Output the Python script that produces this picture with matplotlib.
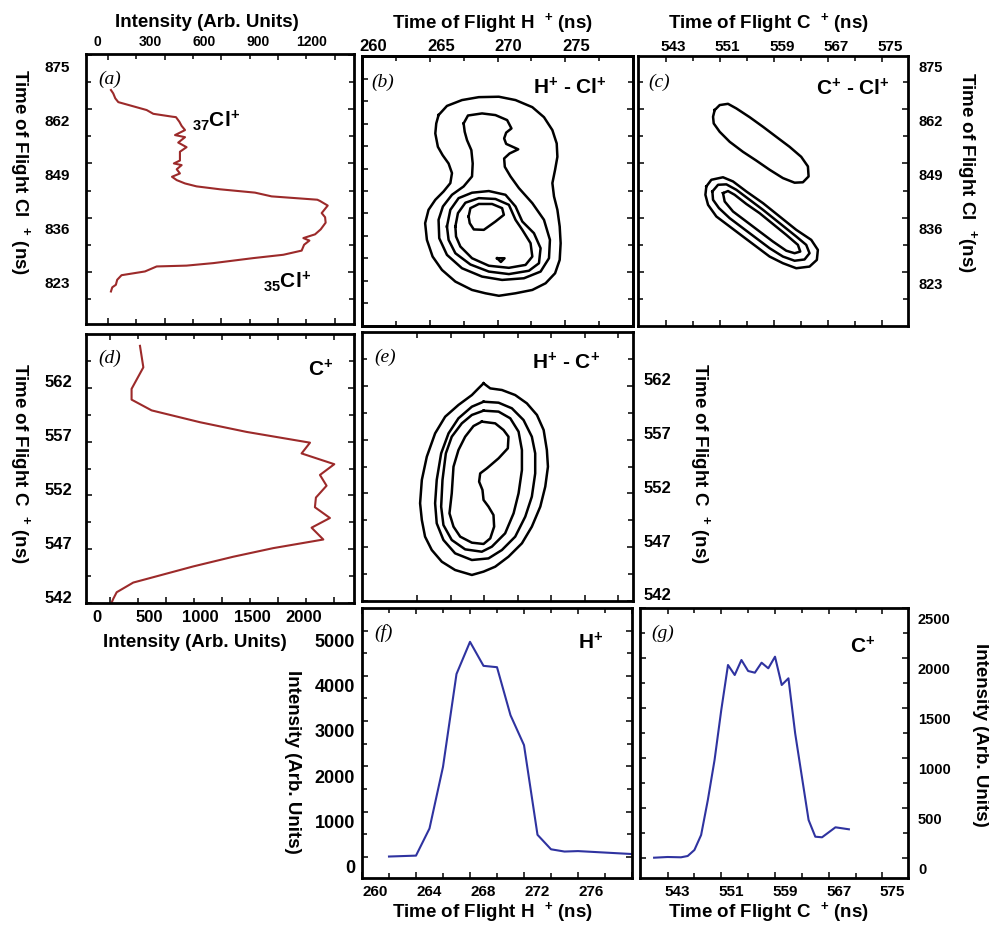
import numpy as np
import matplotlib
matplotlib.use("Agg")
import matplotlib.pyplot as plt
import matplotlib.transforms as mtransforms
from matplotlib.ticker import FixedLocator

plt.rcParams["font.family"] = ["Liberation Sans", "DejaVu Sans"]
plt.rcParams["font.weight"] = "bold"
plt.rcParams["axes.labelweight"] = "bold"
plt.rcParams["mathtext.fontset"] = "custom"
plt.rcParams["mathtext.rm"] = "Liberation Sans:bold"
plt.rcParams["mathtext.it"] = "Liberation Sans:bold"
plt.rcParams["mathtext.bf"] = "Liberation Sans:bold"
plt.rcParams["mathtext.sf"] = "Liberation Sans:bold"
plt.rcParams["mathtext.default"] = "rm"

# ---------------- data ----------------
# (a) Cl+ time-of-flight spectrum (intensity vs TOF)
a_intensity = [16, 23, 42, 49, 72, 196, 258, 416, 558, 769, 928, 1025, 1038, 1066, 1034,
               1096, 1126, 1152, 1149, 1131, 1163, 1122, 1108, 866, 778, 593, 469, 408, 364,
               339, 381, 364, 390, 349, 381, 381, 416, 372, 408, 355, 408, 390, 378, 360, 342,
               240, 205, 55, 39, 28, 16]
a_tof = [818.3, 819.3, 819.9, 821.1, 822.2, 823.1, 824.3, 824.5, 825.1, 826.3, 827.1, 828.1,
         829.5, 830.5, 831.1, 832.0, 833.2, 834.8, 836.1, 837.1, 838.9, 840.0, 840.3, 841.1,
         842.0, 842.8, 843.5, 844.2, 845.0, 845.8, 846.6, 847.6, 848.6, 849.0, 849.7, 851.8,
         852.9, 854.0, 855.3, 855.8, 857.0, 858.0, 859.0, 860.1, 860.2, 860.9, 861.8, 863.7,
         864.6, 865.8, 866.6]

# (d) C+ spectrum
d_intensity = [9, 30, 60, 208, 387, 744, 1101, 1458, 1905, 1800, 1964, 1830, 1839, 1934, 1875,
               2003, 1711, 1786, 1220, 804, 372, 193, 193, 298, 268]
d_tof = [541.9, 542.4, 543.0, 543.9, 544.4, 545.4, 546.3, 547.1, 547.9, 549.0, 549.9, 550.9,
         551.8, 552.9, 553.9, 554.9, 555.9, 556.9, 557.9, 558.8, 559.9, 560.9, 561.9, 563.9, 565.9]

# (f) H+ spectrum
f_tof = [262, 264, 265, 266, 267, 268, 269, 270, 271, 272, 273, 274, 275, 276, 280]
f_intensity = [10, 30, 630, 1990, 4040, 4750, 4220, 4190, 3130, 2470, 490, 170, 120, 130, 65]

# (g) C+ spectrum
g_tof = [541, 543, 545, 546, 547, 548, 549, 550, 551, 552, 553, 554, 555, 556, 557, 558, 559,
         560, 561, 562, 563, 564, 565, 566, 568, 570]
g_intensity = [3, 10, 7, 20, 80, 230, 580, 980, 1480, 1930, 1830, 1980, 1870, 1853, 1953, 1897,
               2013, 1730, 1797, 1247, 813, 380, 213, 207, 307, 287]

# (b) H+ - Cl+ coincidence contours (TOF H+, TOF Cl+)
b_lev1 = [(265.65, 860.6), (266.27, 862.8), (267.38, 864.2), (268.62, 864.9), (270.10, 865.0),
          (271.33, 864.2), (272.57, 862.5), (273.43, 860.1), (274.05, 857.0), (274.37, 853.8),
          (274.42, 850.6), (274.25, 847.5), (274.05, 844.3), (274.17, 841.1), (274.42, 837.9),
          (274.59, 833.9), (274.66, 829.9), (274.59, 825.9), (274.25, 822.7), (273.55, 820.3),
          (272.57, 818.7), (271.33, 817.9), (270.10, 817.3), (269.11, 817.9), (268.12, 818.7),
          (266.89, 820.7), (265.90, 823.5), (265.21, 826.7), (264.79, 830.7), (264.66, 834.7),
          (264.91, 837.9), (265.41, 840.3), (266.02, 842.3), (266.52, 844.3), (266.64, 846.7),
          (266.39, 849.0), (265.95, 851.0), (265.60, 853.0), (265.41, 856.2), (265.48, 858.6)]
b_lev2 = [(267.50, 858.6), (267.82, 860.5), (268.86, 861.0), (269.85, 860.6), (270.71, 859.4),
          (271.03, 857.4), (270.64, 856.4), (270.49, 855.0), (270.64, 853.7), (271.53, 852.4),
          (270.89, 851.4), (270.49, 850.2), (270.54, 848.2), (270.96, 845.9), (271.58, 843.1),
          (272.57, 839.5), (273.43, 835.5), (273.87, 830.7), (273.80, 826.3), (273.18, 823.1),
          (271.95, 821.5), (270.34, 821.1), (268.86, 821.9), (267.38, 823.9), (266.27, 827.1),
          (265.70, 831.1), (265.65, 835.5), (265.97, 838.7), (266.64, 841.5), (267.50, 843.5),
          (268.12, 845.9), (268.17, 849.0), (268.07, 852.2), (267.75, 854.6), (267.58, 856.6)]
b_lev3 = [(266.27, 833.9), (266.52, 837.9), (267.13, 840.7), (268.12, 842.0), (269.36, 842.4),
          (270.59, 841.5), (271.33, 838.7), (271.83, 835.1), (272.69, 832.3), (273.18, 828.7),
          (273.06, 825.1), (272.32, 823.3), (270.84, 822.5), (269.36, 823.1), (268.00, 824.8),
          (266.89, 827.5), (266.39, 830.7)]
b_lev4 = [(266.89, 833.9), (267.08, 837.1), (267.63, 839.6), (268.62, 840.7), (269.85, 840.5),
          (270.84, 839.1), (271.33, 835.5), (271.83, 833.1), (272.44, 829.9), (272.57, 826.7),
          (272.07, 824.7), (270.84, 824.0), (269.36, 824.5), (268.12, 826.3), (267.26, 829.1),
          (266.94, 831.5)]
b_lev5 = [(267.87, 836.3), (268.00, 838.3), (268.62, 839.3), (269.60, 839.3), (270.34, 838.3),
          (270.47, 836.7), (269.85, 835.1), (268.99, 833.1), (268.25, 833.2), (267.95, 834.7)]
b_spot = [(269.97, 826.3), (270.52, 826.3), (270.25, 825.4)]

# (c) C+ - Cl+ coincidence contours (TOF C+, TOF Cl+)
c_lev1 = [(550.23, 861.8), (550.97, 863.0), (552.20, 863.3), (553.43, 862.2), (555.40, 860.1),
          (557.37, 857.8), (559.33, 855.4), (561.30, 853.0), (563.02, 850.6), (564.01, 848.3),
          (564.11, 845.9), (563.27, 844.5), (562.04, 844.4), (560.32, 845.5), (558.35, 847.5),
          (556.38, 849.7), (554.41, 851.8), (552.45, 854.2), (550.97, 856.6), (550.09, 858.6),
          (549.99, 860.2)]
c_lev2 = [(549.00, 843.5), (549.74, 845.1), (551.46, 845.7), (552.94, 844.7), (554.91, 842.3),
          (557.37, 839.5), (559.83, 836.3), (562.29, 833.1), (564.50, 830.7), (565.48, 828.3),
          (565.33, 825.9), (564.25, 824.3), (562.29, 823.9), (560.32, 825.1), (558.35, 826.7),
          (556.38, 829.1), (554.41, 831.5), (552.45, 833.9), (550.48, 836.3), (549.25, 839.1),
          (548.86, 841.5)]
c_lev3 = [(549.89, 842.3), (550.73, 843.9), (551.96, 844.0), (553.43, 842.7), (555.40, 840.3),
          (557.37, 837.9), (559.83, 834.7), (562.29, 831.5), (563.76, 829.5), (564.25, 827.5),
          (563.51, 826.0), (562.04, 825.7), (560.32, 826.7), (558.35, 828.7), (556.38, 831.1),
          (554.41, 833.5), (552.45, 835.9), (550.87, 838.3), (549.99, 840.3)]
c_lev4 = [(551.46, 841.9), (552.20, 842.4), (553.18, 841.5), (554.91, 839.3), (556.87, 837.1),
          (558.84, 834.5), (560.81, 831.9), (562.53, 829.5), (562.88, 827.9), (562.04, 827.5),
          (560.81, 828.1), (558.84, 830.3), (556.87, 832.7), (554.91, 835.1), (552.94, 837.5),
          (551.71, 839.9)]

# (e) H+ - C+ coincidence contours (TOF H+, TOF C+)
e_lev1 = [(267.46, 562.23), (267.96, 561.76), (268.83, 561.61), (269.82, 561.14), (270.69, 560.37),
          (271.44, 559.29), (271.94, 557.89), (272.18, 556.03), (272.26, 554.48), (272.06, 552.63),
          (271.69, 550.77), (271.06, 548.91), (270.32, 547.36), (269.32, 546.12), (268.33, 545.19),
          (267.46, 544.73), (266.59, 544.42), (265.34, 544.88), (264.35, 545.65), (263.60, 546.74),
          (263.10, 547.98), (262.86, 549.53), (262.73, 551.08), (262.86, 553.25), (263.23, 555.41),
          (263.85, 557.58), (264.60, 559.13), (265.59, 560.22), (266.59, 561.14), (267.08, 561.76)]
e_lev2 = [(267.46, 560.52), (268.58, 560.43), (269.57, 559.91), (270.44, 558.82), (271.06, 557.27),
          (271.31, 555.72), (271.31, 553.86), (271.06, 551.70), (270.57, 549.84), (269.82, 547.98),
          (268.83, 546.74), (267.83, 545.96), (266.59, 545.81), (265.34, 546.43), (264.47, 547.67),
          (263.97, 549.22), (263.85, 551.08), (263.97, 553.25), (264.30, 555.72), (264.85, 557.58),
          (265.59, 558.98), (266.59, 560.06)]
e_lev3 = [(267.46, 559.69), (268.58, 559.60), (269.45, 558.98), (270.07, 557.74), (270.32, 556.03),
          (270.32, 554.17), (270.07, 552.01), (269.70, 550.15), (269.07, 548.29), (268.08, 547.05),
          (267.33, 546.58), (266.09, 546.80), (265.09, 547.67), (264.47, 549.06), (264.30, 550.77),
          (264.40, 553.25), (264.65, 555.72), (265.09, 557.27), (265.84, 558.51), (266.59, 559.29)]
e_lev4 = [(267.33, 558.67), (268.33, 558.51), (268.95, 557.89), (269.32, 557.27), (269.27, 556.19),
          (268.58, 555.26), (267.71, 554.33), (267.21, 553.86), (267.13, 553.09), (267.38, 552.32),
          (267.46, 551.39), (267.83, 550.77), (268.20, 549.99), (268.25, 548.91), (267.96, 547.82),
          (267.46, 547.30), (266.59, 547.42), (265.72, 547.98), (265.22, 548.91), (264.92, 550.15),
          (265.09, 552.01), (265.22, 554.48), (265.59, 556.03), (266.09, 557.27), (266.71, 558.26)]

# tick labels
cl_tof_labels = [823, 836, 849, 862, 875]
c_tof_labels = [542, 547, 552, 557, 562]
c_tof_top_labels = [543, 551, 559, 567, 575]
h_tof_top_labels = [260, 265, 270, 275]
h_tof_bottom_labels = [260, 264, 268, 272, 276]
a_int_labels = [0, 300, 600, 900, 1200]
d_int_labels = [0, 500, 1000, 1500, 2000]
f_int_labels = [0, 1000, 2000, 3000, 4000, 5000]
g_int_labels = [0, 500, 1000, 1500, 2000, 2500]

RED = "#9c2a2a"
BLUE = "#2f33a0"

# ---------------- figure ----------------
W, H = 989, 925
fig = plt.figure(figsize=(W / 100, H / 100), dpi=100)


def panel(l, t, r, b, xlim, ylim, xmaj, xmin, ymaj, ymin):
    ax = fig.add_axes([l / W, 1 - b / H, (r - l) / W, (b - t) / H])
    ax.set_xlim(*xlim)
    ax.set_ylim(*ylim)
    ax.xaxis.set_major_locator(FixedLocator(xmaj))
    ax.xaxis.set_minor_locator(FixedLocator(xmin))
    ax.yaxis.set_major_locator(FixedLocator(ymaj))
    ax.yaxis.set_minor_locator(FixedLocator(ymin))
    ax.tick_params(which="both", direction="in", top=True, bottom=True, left=True,
                   right=True, labelbottom=False, labeltop=False, labelleft=False,
                   labelright=False, width=1.1)
    ax.tick_params(which="major", length=4)
    ax.tick_params(which="minor", length=3.5)
    for s in ax.spines.values():
        s.set_linewidth(2)
    return ax


def tick_text(ax, side, values, pad_px, size, shift=0.0, scale=1.0):
    d = pad_px / 100
    if side in ("left", "right"):
        base = mtransforms.blended_transform_factory(ax.transAxes, ax.transData)
        sgn = -1 if side == "left" else 1
        tr = base + mtransforms.ScaledTranslation(sgn * d, 0, fig.dpi_scale_trans)
        for v in values:
            ax.text(0 if side == "left" else 1, shift + scale * v, f"{v:g}", transform=tr,
                    ha="right" if side == "left" else "left", va="center", fontsize=size)
    else:
        base = mtransforms.blended_transform_factory(ax.transData, ax.transAxes)
        sgn = 1 if side == "top" else -1
        tr = base + mtransforms.ScaledTranslation(0, sgn * d, fig.dpi_scale_trans)
        for v in values:
            ax.text(shift + scale * v, 1 if side == "top" else 0, f"{v:g}", transform=tr,
                    ha="center", va="center", fontsize=size)


def xlab(ax, text, x, y):
    ax.set_xlabel(text, fontsize=13.5, fontweight="bold")
    ax.xaxis.set_label_coords(x, y)
    ax.xaxis.label.set_va("center")


def ylab(ax, text, x, y):
    ax.set_ylabel(text, fontsize=13.5, fontweight="bold", rotation=270)
    ax.yaxis.set_label_coords(x, y)
    ax.yaxis.label.set_va("center")
    ax.yaxis.label.set_ha("center")


def tag(ax, letter, x, y):
    ax.text(x, y, f"({letter})", transform=ax.transAxes, ha="center", va="center",
            fontsize=14, family=["Liberation Serif"], style="italic", weight="normal")


def species(ax, text, x, y, ha="right"):
    ax.text(x, y, text, transform=ax.transAxes, ha=ha, va="center", fontsize=15)


def loop(ax, pts):
    p = np.array(list(pts) + [pts[0]])
    ax.plot(p[:, 0], p[:, 1], color="black", lw=1.8, solid_joinstyle="round")


cl_maj = np.arange(823, 876, 13)
cl_min = np.arange(816.5, 870, 13)
c_maj = np.arange(542, 563, 5)
c_min = np.arange(544.5, 565, 5)
ctop_maj = np.arange(543, 576, 8)
ctop_min = np.arange(547, 572, 8)

# (a)
ax_a = panel(86, 54, 354, 324, (-116, 1302), (810.5, 875.24),
             np.arange(0, 1201, 300), np.arange(150, 1201, 300), cl_maj, cl_min)
ax_a.plot(a_intensity, a_tof, color=RED, lw=1.5)
tick_text(ax_a, "top", a_int_labels, 12, 10, shift=-56.6, scale=0.9432)
tick_text(ax_a, "left", cl_tof_labels, 16, 11, shift=-3.0)
xlab(ax_a, "Intensity (Arb. Units)", 0.451, 1.115)
ylab(ax_a, "Time of Flight Cl  $^{+}$ (ns)", -0.246, 0.563)
tag(ax_a, "a", 0.090, 0.907)
species(ax_a, "$_{37}$Cl$^{+}$", 0.396, 0.752, ha="left")
species(ax_a, "$_{35}$Cl$^{+}$", 0.660, 0.156, ha="left")

# (b)
ax_b = panel(362, 56, 633, 326, (260, 280), (810.06, 874.76),
             np.arange(260, 281, 5), np.arange(262.5, 278, 5),
             np.arange(869.25, 814, -5.37), [])
ax_b_r = ax_b.twinx()
ax_b_r.set_ylim(810.06, 874.76)
ax_b_r.yaxis.set_major_locator(FixedLocator(cl_maj))
ax_b_r.yaxis.set_minor_locator(FixedLocator(cl_min))
ax_b_r.tick_params(which="both", direction="in", right=True, left=False,
                   labelright=False, width=1.1)
ax_b_r.tick_params(which="major", length=4)
ax_b_r.tick_params(which="minor", length=3.5)
for s in ax_b_r.spines.values():
    s.set_linewidth(2)
ax_b.tick_params(labelleft=False)
for lev in (b_lev1, b_lev2, b_lev3, b_lev4, b_lev5, b_spot):
    loop(ax_b, lev)
tick_text(ax_b, "top", h_tof_top_labels, 9, 12, shift=0.82)
xlab(ax_b, "Time of Flight H  $^{+}$ (ns)", 0.483, 1.122)
tag(ax_b, "b", 0.077, 0.904)
species(ax_b, "H$^{+}$ - Cl$^{+}$", 0.904, 0.881)

# (c)
ax_c = panel(638, 56, 908, 326, (538.9, 578.8), (810.06, 874.76),
             ctop_maj, ctop_min, cl_maj, cl_min)
for lev in (c_lev1, c_lev2, c_lev3, c_lev4):
    loop(ax_c, lev)
tick_text(ax_c, "top", c_tof_top_labels, 9, 11, shift=1.15)
tick_text(ax_c, "right", cl_tof_labels, 10, 10.5, shift=-3.0)
xlab(ax_c, "Time of Flight C  $^{+}$ (ns)", 0.485, 1.122)
ylab(ax_c, "Time of Flight Cl  $^{+}$(ns)", 1.219, 0.570)
tag(ax_c, "c", 0.078, 0.904)
species(ax_c, "C$^{+}$ - Cl$^{+}$", 0.933, 0.878)

# (d)
ax_d = panel(86, 334, 354, 603, (-214, 2179), (542, 567),
             np.arange(0, 2001, 500), np.arange(250, 1751, 500), c_maj, c_min)
ax_d.plot(d_intensity, d_tof, color=RED, lw=1.5)
tick_text(ax_d, "bottom", d_int_labels, 14, 12, shift=-112.5, scale=0.9214)
tick_text(ax_d, "left", c_tof_labels, 14, 12, shift=0.46)
xlab(ax_d, "Intensity (Arb. Units)", 0.407, -0.145)
ylab(ax_d, "Time of Flight C  $^{+}$ (ns)", -0.246, 0.520)
tag(ax_d, "d", 0.090, 0.911)
species(ax_d, "C$^{+}$", 0.922, 0.866)

# (e)
ax_e = panel(362, 332, 633, 601, (258.4, 278.6), (542, 567),
             np.arange(262.5, 278, 2.5), [], c_maj, c_min)
for lev in (e_lev1, e_lev2, e_lev3, e_lev4):
    loop(ax_e, lev)
tick_text(ax_e, "right", c_tof_labels, 11, 12, shift=0.48)
ylab(ax_e, "Time of Flight C  $^{+}$ (ns)", 1.247, 0.513)
tag(ax_e, "e", 0.085, 0.907)
species(ax_e, "H$^{+}$ - C$^{+}$", 0.878, 0.885)

# (f)
ax_f = panel(362, 608, 632, 878, (260, 280), (-464, 5497),
             np.arange(260, 281, 4), np.arange(262, 279, 4),
             np.arange(0, 5001, 1000), np.arange(500, 5501, 1000))
ax_f.plot(f_tof, f_intensity, color=BLUE, lw=1.5)
tick_text(ax_f, "bottom", h_tof_bottom_labels, 14, 11, shift=1.0)
tick_text(ax_f, "left", f_int_labels, 7, 13, shift=-260)
xlab(ax_f, "Time of Flight H  $^{+}$ (ns)", 0.485, -0.126)
ylab(ax_f, "Intensity (Arb. Units)", -0.259, 0.430)
tag(ax_f, "f", 0.078, 0.907)
species(ax_f, "H$^{+}$", 0.893, 0.870)

# (g)
ax_g = panel(640, 608, 908, 878, (538.9, 578.8), (-200, 2500),
             ctop_maj, ctop_min, np.arange(0, 2501, 500), np.arange(250, 2251, 500))
ax_g.plot(g_tof, g_intensity, color=BLUE, lw=1.5)
tick_text(ax_g, "bottom", c_tof_top_labels, 14, 11, shift=1.5)
tick_text(ax_g, "right", g_int_labels, 10, 10.5, shift=-123)
xlab(ax_g, "Time of Flight C  $^{+}$ (ns)", 0.481, -0.126)
ylab(ax_g, "Intensity (Arb. Units)", 1.269, 0.530)
tag(ax_g, "g", 0.086, 0.907)
species(ax_g, "C$^{+}$", 0.877, 0.856)

fig.savefig("out.png", dpi=100)
